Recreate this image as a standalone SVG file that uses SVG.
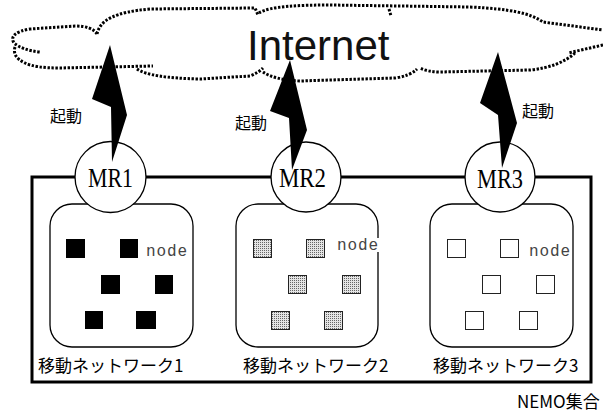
<svg xmlns="http://www.w3.org/2000/svg" width="603" height="412" viewBox="0 0 603 412">
<defs>
<pattern id="stip" width="2" height="2" patternUnits="userSpaceOnUse">
<rect width="2" height="2" fill="#e4e4e4"/>
<rect width="1" height="1" fill="#666"/>
</pattern>
<style>
.cloud{fill:none;stroke:#000;stroke-width:3;stroke-dasharray:2.4 1.6}
.net{fill:#fff;stroke:#000;stroke-width:1.3}
.mr{fill:#fff;stroke:#000;stroke-width:1.3}
.mrt{font-family:"Liberation Serif",serif;font-size:27px;fill:#000}
.lbl{font-family:"Noto Sans CJK JP",sans-serif;font-size:17px;fill:#000}
.kd{font-family:"Noto Sans CJK JP",sans-serif;font-size:16px;fill:#000}
.nd{font-family:"Liberation Mono",monospace;font-size:16px;fill:#444}
.n1{fill:#000}
.n2{fill:url(#stip);stroke:#222;stroke-width:1}
.n3{fill:#fff;stroke:#222;stroke-width:1}
.bolt{fill:#000}
</style>
</defs>
<rect width="603" height="412" fill="#fff"/>
<g id="internet">
<path class="cloud" d="M97,34 Q92,26 75,26 L30,29 Q8,33 14,43 Q22,50 40,52"/>
<path class="cloud" d="M15,47 Q12,57 25,63 Q35,68 60,68 L153,66"/>
<path class="cloud" d="M97,34 C100,20 115,12 150,9 L255,8 L258,15"/>
<path class="cloud" d="M259,13 C270,6 300,5 330,5 L470,7 C510,9 530,13 543,22 L603,30"/>
<path class="cloud" d="M389,9 L391,16"/>
<path class="cloud" d="M603,45 L568,53"/>
<path class="cloud" d="M575,53 C565,62 550,68 530,70 L440,72 Q428,72 420,68"/>
<path class="cloud" d="M137,69 Q150,78 200,79 L250,76 Q258,73 263,68"/>
<path class="cloud" d="M263,72 Q275,80 300,81 L395,78 Q410,76 417,69"/>
<text x="247" y="60" font-family="Liberation Sans, Arial, sans-serif" font-size="42" fill="#111">Internet</text>
</g>
<g id="nemo">
<rect x="32" y="177" width="559" height="205" fill="none" stroke="#000" stroke-width="3"/>
<text x="517" y="408" class="lbl">NEMO集合</text>
</g>
<g id="net1">
<rect class="net" x="50" y="204" width="143" height="143" rx="22"/>
<rect class="n1" x="66" y="239" width="19" height="19"/>
<rect class="n1" x="120" y="239" width="18" height="19"/>
<rect class="n1" x="101" y="275" width="19" height="19"/>
<rect class="n1" x="155" y="275" width="18" height="19"/>
<rect class="n1" x="85" y="311" width="18" height="18"/>
<rect class="n1" x="136" y="311" width="20" height="18"/>
<text class="nd" x="146" y="256" textLength="41">node</text>
<text class="lbl" x="38" y="372">移動ネットワーク1</text>
</g>
<g id="net2">
<rect class="net" x="236" y="204" width="142" height="143" rx="22"/>
<rect class="n2" x="253.5" y="239.5" width="18" height="18"/>
<rect class="n2" x="306.5" y="239.5" width="18" height="18"/>
<rect class="n2" x="288.5" y="275.5" width="18" height="18"/>
<rect class="n2" x="342.5" y="275.5" width="18" height="18"/>
<rect class="n2" x="271.5" y="311.5" width="18" height="18"/>
<rect class="n2" x="324.5" y="311.5" width="18" height="18"/>
<rect x="336" y="238" width="44" height="14" fill="#fff"/>
<text class="nd" x="337" y="250" textLength="41">node</text>
<text class="lbl" x="243" y="372">移動ネットワーク2</text>
</g>
<g id="net3">
<rect class="net" x="430" y="204" width="143" height="143" rx="22"/>
<rect class="n3" x="447.5" y="239.5" width="18" height="18"/>
<rect class="n3" x="500.5" y="239.5" width="18" height="18"/>
<rect class="n3" x="482.5" y="275.5" width="18" height="18"/>
<rect class="n3" x="536.5" y="275.5" width="18" height="18"/>
<rect class="n3" x="465.5" y="311.5" width="18" height="18"/>
<rect class="n3" x="519.5" y="311.5" width="18" height="18"/>
<text class="nd" x="529" y="256" textLength="41">node</text>
<text class="lbl" x="433" y="372">移動ネットワーク3</text>
</g>
<g id="mr1">
<circle class="mr" cx="110.5" cy="177" r="35.5"/>
<text class="mrt" x="88" y="187" textLength="45" lengthAdjust="spacingAndGlyphs">MR1</text>
</g>
<g id="mr2">
<circle class="mr" cx="306" cy="177" r="35"/>
<text class="mrt" x="279" y="187" textLength="47" lengthAdjust="spacingAndGlyphs">MR2</text>
</g>
<g id="mr3">
<circle class="mr" cx="500" cy="177" r="35"/>
<text class="mrt" x="477" y="188" textLength="46" lengthAdjust="spacingAndGlyphs">MR3</text>
</g>
<g id="connectors">
<polygon class="bolt" points="110,45 127,115 112,162 111,107 92,99"/>
<polygon class="bolt" points="290,60 307,130 292,170 289,118 270,111"/>
<polygon class="bolt" points="498,52 517,123 502,168 498,115 480,103"/>
<text class="kd" x="50" y="122">起動</text>
<text class="kd" x="235" y="129">起動</text>
<text class="kd" x="522" y="117">起動</text>
</g>
</svg>
